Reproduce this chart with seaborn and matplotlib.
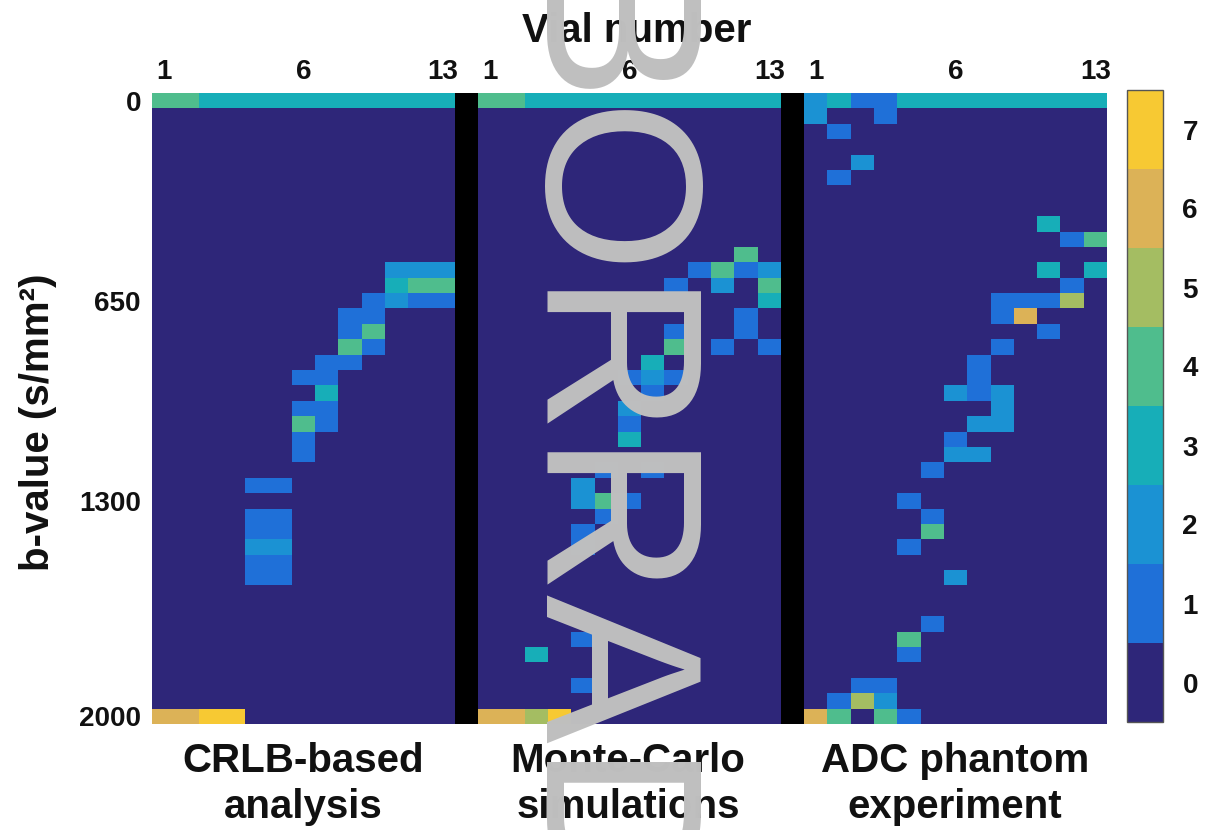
import numpy as np
import pandas as pd
import matplotlib
matplotlib.use('Agg')
from matplotlib import pyplot as plt
from matplotlib.colors import ListedColormap
import seaborn as sns

sns.set_theme(style='white')
plt.rcParams['font.family'] = ['Liberation Sans', 'DejaVu Sans']

##########################################################################
# data: counts of optimal b-values per vial

b_values = list(range(0, 2001, 50))
vials = list(range(1, 14))
panel_titles = ['CRLB-based\nanalysis', 'Monte-Carlo\nsimulations', 'ADC phantom\nexperiment']

# b = 0 row, one count per vial
crlb_b0 = [4, 4, 3, 3, 3, 3, 3, 3, 3, 3, 3, 3, 3]
mc_b0 = [4, 4, 3, 3, 3, 3, 3, 3, 3, 3, 3, 3, 3]
adc_b0 = [2, 3, 1, 1, 3, 3, 3, 3, 3, 3, 3, 3, 3]

# remaining non-zero cells: (b-value, vial, count)
crlb_cells = [(550, 11, 2), (550, 12, 2), (550, 13, 2),
              (600, 11, 3), (600, 12, 4), (600, 13, 4),
              (650, 10, 1), (650, 11, 2), (650, 12, 1), (650, 13, 1),
              (700, 9, 1), (700, 10, 1), (750, 9, 1), (750, 10, 4),
              (800, 9, 4), (800, 10, 1), (850, 8, 1), (850, 9, 1),
              (900, 7, 1), (900, 8, 1), (950, 8, 3),
              (1000, 7, 1), (1000, 8, 1), (1050, 7, 4), (1050, 8, 1),
              (1100, 7, 1), (1150, 7, 1),
              (1250, 5, 1), (1250, 6, 1), (1350, 5, 1), (1350, 6, 1),
              (1400, 5, 1), (1400, 6, 1), (1450, 5, 2), (1450, 6, 2),
              (1500, 5, 1), (1500, 6, 1), (1550, 5, 1), (1550, 6, 1),
              (2000, 1, 6), (2000, 2, 6), (2000, 3, 7), (2000, 4, 7)]

mc_cells = [(500, 12, 4),
            (550, 10, 1), (550, 11, 4), (550, 12, 1), (550, 13, 2),
            (600, 9, 1), (600, 11, 2), (600, 13, 4), (650, 13, 3),
            (700, 12, 1), (750, 9, 1), (750, 12, 1),
            (800, 9, 4), (800, 11, 1), (800, 13, 1),
            (850, 8, 3), (900, 7, 1), (900, 8, 2), (900, 9, 1),
            (950, 8, 1), (1000, 7, 2), (1050, 7, 1), (1100, 7, 3),
            (1200, 6, 1), (1200, 8, 1), (1250, 5, 2),
            (1300, 5, 2), (1300, 6, 4), (1300, 7, 1),
            (1350, 6, 1), (1400, 5, 1), (1450, 5, 1),
            (1750, 5, 1), (1800, 3, 3), (1900, 5, 1),
            (2000, 1, 6), (2000, 2, 6), (2000, 3, 5), (2000, 4, 7)]

adc_cells = [(50, 1, 2), (50, 4, 1), (100, 2, 1), (200, 3, 2), (250, 2, 1),
             (400, 11, 3), (450, 12, 1), (450, 13, 4),
             (550, 11, 3), (550, 13, 3), (600, 12, 1),
             (650, 9, 1), (650, 10, 1), (650, 11, 1), (650, 12, 5),
             (700, 9, 1), (700, 10, 6), (750, 11, 1), (800, 9, 1),
             (850, 8, 1), (900, 8, 1),
             (950, 7, 2), (950, 8, 1), (950, 9, 2), (1000, 9, 2),
             (1050, 8, 2), (1050, 9, 2), (1100, 7, 1),
             (1150, 7, 2), (1150, 8, 2), (1200, 6, 1),
             (1300, 5, 1), (1350, 6, 1), (1400, 6, 4), (1450, 5, 1),
             (1550, 7, 2), (1700, 6, 1), (1750, 5, 4), (1800, 5, 1),
             (1900, 3, 1), (1900, 4, 1),
             (1950, 2, 1), (1950, 3, 5), (1950, 4, 2),
             (2000, 1, 6), (2000, 2, 4), (2000, 4, 4), (2000, 5, 1)]

level_colors = ['#2e2679', '#1f70d8', '#1b92d3', '#17aeb8',
                '#4fbd8d', '#a4bd62', '#dcb257', '#f7c933']


def build_panel(top, cells):
    m = np.zeros((len(b_values), len(vials)))
    m[0] = top
    for b, v, c in cells:
        m[b_values.index(b), v - 1] = c
    return m


sep = np.full((len(b_values), 1), np.nan)
grid = np.hstack([build_panel(crlb_b0, crlb_cells), sep,
                  build_panel(mc_b0, mc_cells), sep,
                  build_panel(adc_b0, adc_cells)])
cols = ['c%d' % i for i in range(grid.shape[1])]
df = pd.DataFrame(grid, index=b_values, columns=cols)

##########################################################################
W, H = 1205, 830
fig = plt.figure(figsize=(W / 100, H / 100), dpi=100)
ax = fig.add_axes([152 / W, 1 - 724 / H, 955 / W, 631 / H])
cax = fig.add_axes([1127 / W, 1 - 722 / H, 36 / W, 632 / H])

cmap = ListedColormap(level_colors)
sns.heatmap(df, ax=ax, cmap=cmap, vmin=-0.5, vmax=7.5, cbar_ax=cax,
            cbar_kws={'ticks': range(8)}, xticklabels=False, yticklabels=False)
ax.set_facecolor('black')

# ticks
xt = []
for off in [0, 14, 28]:
    xt += [off + 0.5, off + 6.5, off + 12.5]
ax.xaxis.tick_top()
ax.set_xticks(xt)
ax.set_xticklabels(['1', '6', '13'] * 3, fontsize=20, fontweight='bold', rotation=0)
ax.set_yticks([0.5, 13.5, 26.5, 40.5])
ax.set_yticklabels(['0', '650', '1300', '2000'], fontsize=20, fontweight='bold', rotation=0)
ax.tick_params(axis='x', top=True, bottom=False, length=0, pad=6, colors='#111111')
ax.tick_params(axis='y', left=False, length=0, pad=8, colors='#111111')
ax.set_xlabel('')
ax.set_ylabel('')

cb = ax.collections[0].colorbar
cb.outline.set_linewidth(1)
cb.outline.set_edgecolor('#555555')
cax.tick_params(length=0, labelsize=20, pad=14, colors='#111111')
for t in cax.get_yticklabels():
    t.set_fontweight('bold')

# texts
fig.text(637 / W, 1 - 31 / H, 'Vial number', fontsize=29, fontweight='bold',
         ha='center', va='center', color='#111111')
fig.text(38 / W, 1 - 422 / H, 'b-value (s/mm²)', fontsize=29, fontweight='bold',
         rotation=90, ha='center', va='center', color='#111111')
for cx, title in zip([303, 628, 955], panel_titles):
    fig.text(cx / W, 1 - 784 / H, title, fontsize=29, fontweight='bold',
             ha='center', va='center', linespacing=1.25, color='#111111')

# watermark
fig.text(528 / W, 1 + 31 / H, 'BORRADOR', rotation=270, rotation_mode='anchor',
         ha='left', va='baseline', fontsize=160.6, color='#bfbfbf',
         family='Liberation Sans', zorder=10)

plt.savefig('out.png', dpi=100)
